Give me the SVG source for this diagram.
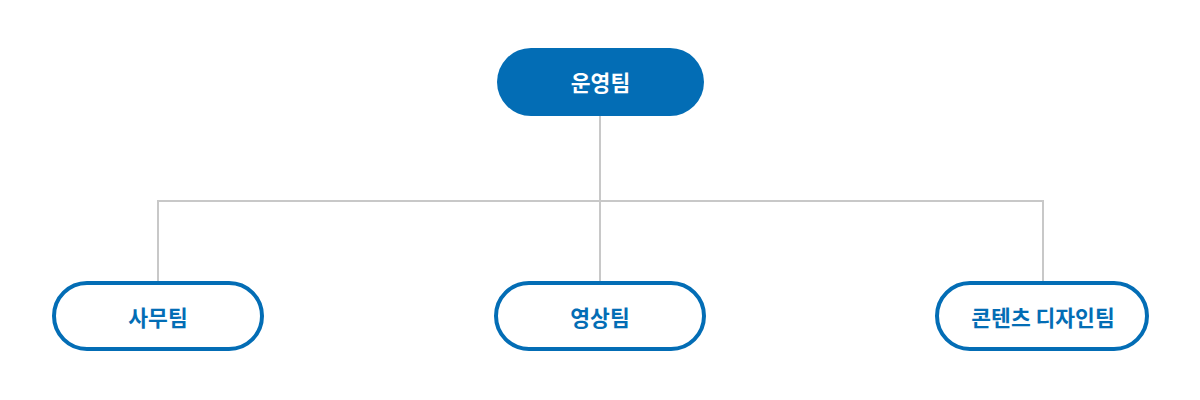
<svg xmlns="http://www.w3.org/2000/svg" width="1200" height="400" viewBox="0 0 1200 400">
<style>
.lbl{font-family:"Noto Sans CJK KR","Noto Sans",sans-serif;font-weight:700;font-size:21.5px;text-anchor:middle;dominant-baseline:central}
.top rect{fill:#036db5}
.top text{fill:#ffffff}
.sub rect{fill:#ffffff;stroke:#036db5;stroke-width:4}
.sub text{fill:#036db5}
.conn{fill:none;stroke:#c8c8c8;stroke-width:2}
</style>
<rect width="1200" height="400" fill="#ffffff"/>
<g id="connectors" class="conn">
<path d="M600 116V283"/>
<path d="M158 283V201H1043V283"/>
</g>
<g id="node-ops" class="top">
<rect x="497" y="48" width="207" height="68" rx="34"/>
<text class="lbl" x="600.5" y="81">운영팀</text>
</g>
<g id="node-office" class="sub">
<rect x="54" y="283" width="208" height="66" rx="33"/>
<text class="lbl" x="158" y="316">사무팀</text>
</g>
<g id="node-video" class="sub">
<rect x="496" y="283" width="208" height="66" rx="33"/>
<text class="lbl" x="600" y="316">영상팀</text>
</g>
<g id="node-content" class="sub">
<rect x="937" y="283" width="210" height="66" rx="33"/>
<text class="lbl" x="1043" y="316">콘텐츠 디자인팀</text>
</g>
</svg>
